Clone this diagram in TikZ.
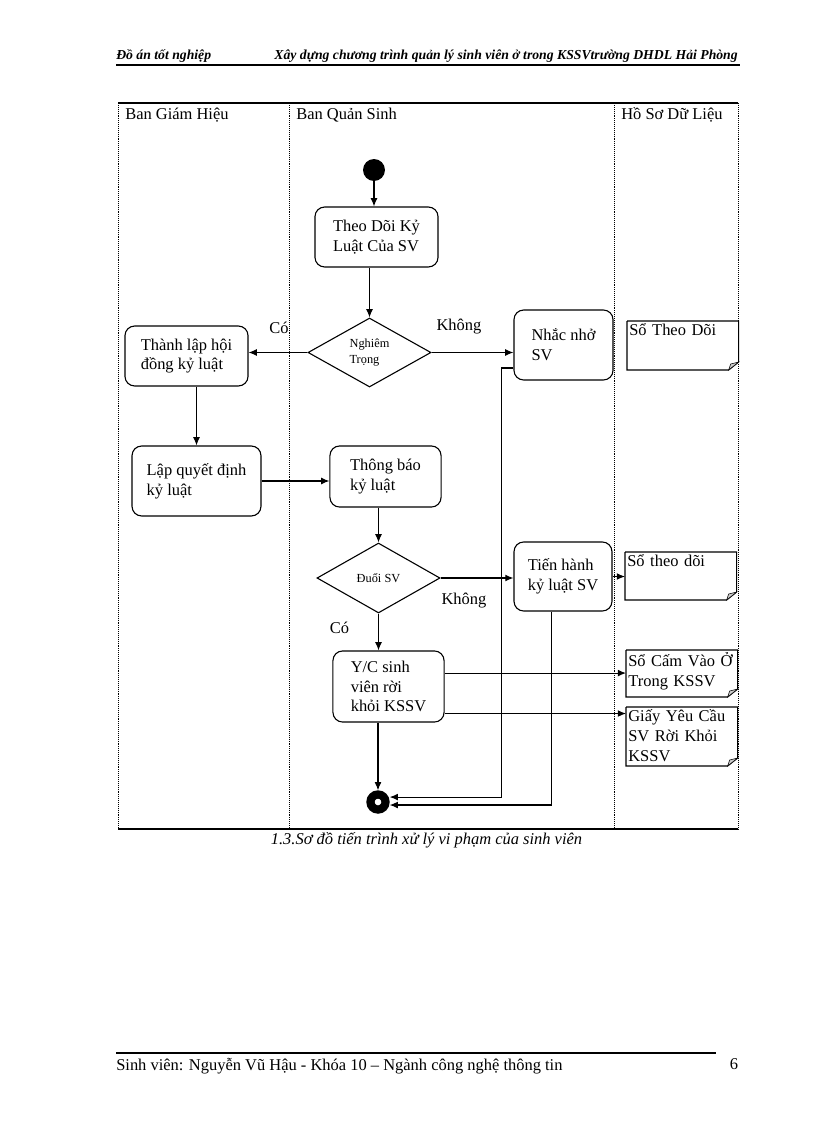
\documentclass[tikz,border=0pt]{standalone}
\usepackage{fontspec}
\setmainfont{Liberation Serif}
\usetikzlibrary{shapes.geometric, arrows.meta}

\begin{document}
\begin{tikzpicture}[x=0.729pt, y=-0.729pt, every node/.style={font=\fontsize{12}{14.5}\selectfont}, act/.style={draw, thick, rectangle, rounded corners=7pt, align=left, inner sep=2pt}, dec/.style={draw, thick, diamond, inner sep=0pt, align=left, font=\fontsize{9}{11}\selectfont}, doc/.style={anchor=north west, inner sep=1.5pt, text width=78pt, align=left}, lbl/.style={inner sep=0pt}, arr/.style={-{Latex[length=6pt, width=5pt]}, thick}]
	\fill[white] (0,0) rectangle (816,1123);
	\useasboundingbox (0,0) rectangle (816,1123);
	% header
	\node[lbl, anchor=west, font=\fontsize{10}{12}\selectfont\bfseries\itshape] (hdleft) at (116,56) {Đồ án tốt nghiệp};
	\node[lbl, anchor=east, font=\fontsize{10}{12}\selectfont\bfseries\itshape] (hdright) at (738,56) {Xây dựng chương trình quản lý sinh viên ở trong KSSVtrường DHDL Hải Phòng};
	\draw[line width=1pt] (116,65) -- (740,65);
	% lanes
	\draw[thick] (118,103) -- (738,103);
	\draw[thick] (118,829) -- (738,829);
	\foreach \x in {118,289,614,738}
		\draw[densely dotted] (\x,103) -- (\x,829);
	\node[lbl, anchor=west] (bgh) at (125,115) {Ban Giám Hiệu};
	\node[lbl, anchor=west] (bqs) at (296,115) {Ban Quản Sinh};
	\node[lbl, anchor=west] (hsdl) at (621,115) {Hồ Sơ Dữ Liệu};
	% activities
	\node[circle, fill, inner sep=0pt, minimum size=16pt] (start) at (374,170) {};
	\node[act, minimum width=89.7pt, minimum height=43.7pt] (theodoi) at (376.5,237) {Theo Dõi Kỷ\\Luật Của SV};
	\node[dec, minimum width=89.7pt, minimum height=50.3pt] (nghiem) at (369.5,352.5) {Nghiêm\\Trọng};
	\node[act, minimum width=89.7pt, minimum height=43.7pt] (thanhlap) at (186.5,356) {Thành lập hội\\đồng kỷ luật};
	\node[act, minimum width=72.2pt, minimum height=51pt] (nhacnho) at (563.5,345) {Nhắc nhở\\SV};
	\node[act, minimum width=94pt, minimum height=51pt] (lapqd) at (196.5,481) {Lập quyết định\\kỷ luật};
	\node[act, minimum width=81pt, minimum height=44.5pt] (thongbao) at (385.5,476.5) {Thông báo\\kỷ luật};
	\node[dec, minimum width=89.7pt, minimum height=51pt] (duoi) at (378.5,578) {Đuổi SV};
	\node[act, minimum width=71.4pt, minimum height=50.3pt] (tienhanh) at (563,576.5) {Tiến hành\\kỷ luật SV};
	\node[act, minimum width=81pt, minimum height=51.8pt] (yc) at (388.5,686.5) {Y/C sinh\\viên rời\\khỏi KSSV};
	\node[circle, draw, fill=white, line width=6pt, inner sep=0pt, minimum size=11pt] (stop) at (378,802) {};
	% documents
	\node[doc] (sotheodoi) at (627,321) {Sổ Theo Dõi};
	\node[doc] (sotd) at (625,552) {Sổ theo dõi};
	\node[doc] (socam) at (626,650) {Sổ Cấm Vào Ở\\Trong KSSV};
	\node[doc] (giay) at (626,707) {Giấy Yêu Cầu\\SV Rời Khỏi\\KSSV};
	\foreach \d/\h in {sotheodoi/49, sotd/48, socam/47, giay/59}{
		\draw[thick] (\d.north west) -- (\d.north east) -- ++(0,\h-8) coordinate (\d-a) -- ++(-10,8) coordinate (\d-b) -| (\d.north west);
		\draw[fill=gray!40] (\d-a) -- (\d-b) -- ++(2,-6) -- cycle;
	}
	% flows
	\draw[arr] (start) -- (start |- theodoi.north);
	\draw[arr] (nghiem.north |- theodoi.south) -- (nghiem.north);
	\draw[arr] (nghiem.west) -- (nghiem.west -| thanhlap.east);
	\draw[arr] (nghiem.east) -- (nghiem.east -| nhacnho.west);
	\draw[arr] (thanhlap.south -| lapqd.north) -- (lapqd.north);
	\draw[arr] (lapqd.east) -- (lapqd.east -| thongbao.west);
	\draw[arr] (duoi.north |- thongbao.south) -- (duoi.north);
	\draw[arr] (duoi.east) -- (duoi.east -| tienhanh.west);
	\draw[arr] (tienhanh.east) -- (tienhanh.east -| sotd.west);
	\draw[arr] (duoi.south) -- (duoi.south |- yc.north);
	\draw[arr] ([yshift=9.8pt]yc.east) coordinate (ycA) -- (ycA -| socam.west);
	\draw[arr] ([yshift=-19.7pt]yc.east) coordinate (ycB) -- (ycB -| giay.west);
	\draw[arr] (yc.south -| stop.north) -- (stop.north);
	\draw[arr] ([yshift=-16.8pt]nhacnho.west) -- ++(-12,0) |- ([yshift=3.6pt]stop.east);
	\draw[arr] ([xshift=-8.7pt]tienhanh.south) |- ([yshift=-2.2pt]stop.east);
	% guards
	\node[lbl] (co1) at (279,328) {Có};
	\node[lbl] (khong1) at (459,327) {Không};
	\node[lbl] (khong2) at (464,601) {Không};
	\node[lbl] (co2) at (339.5,628) {Có};
	% caption and footer
	\node[lbl, font=\fontsize{12}{14}\selectfont\itshape] (caption) at (426.5,840) {1.3.Sơ đồ tiến trình xử lý vi phạm của sinh viên};
	\draw[line width=1.5pt] (116,1053) -- (716,1053);
	\node[lbl, anchor=west] (footer) at (116,1066) {Sinh viên: Nguyễn Vũ Hậu - Khóa 10 – Ngành công nghệ thông tin};
	\node[lbl] (page) at (734,1064) {6};
\end{tikzpicture}
\end{document}
